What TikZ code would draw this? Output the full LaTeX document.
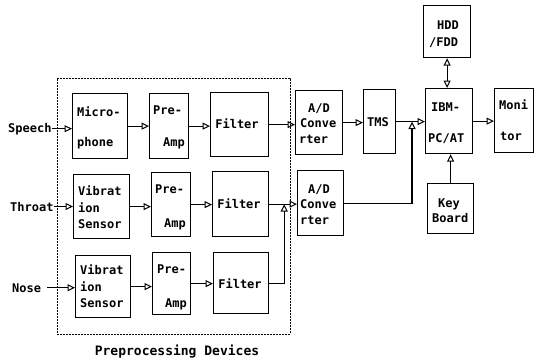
\documentclass[tikz,border=0pt]{standalone}
\usepackage{fontspec}
\setmonofont{DejaVu Sans Mono}
\usetikzlibrary{arrows.meta,calc}
\begin{document}
\begin{tikzpicture}[x=1pt,y=-1pt,
  box/.style={draw, line width=1.2pt, inner sep=0pt, anchor=north west},
  grp/.style={draw, line width=0.6pt, dash pattern=on 2pt off 1pt, inner sep=0pt, anchor=north west},
  txt/.style={font=\fontsize{12}{14}\selectfont\ttfamily\bfseries, inner sep=0pt, anchor=base west},
  txtr/.style={txt, anchor=base east},
  txtc/.style={txt, anchor=base},
  conn/.style={line width=1.2pt, -{Triangle[open,length=7.5pt,width=7pt,line width=1pt]}},
  conn2/.style={line width=1.2pt, {Triangle[open,length=7.5pt,width=7pt,line width=1pt]}-{Triangle[open,length=7.5pt,width=7pt,line width=1pt]}}
]
\useasboundingbox (0,0) rectangle (534,361);

% group
\node[grp, minimum width=233pt, minimum height=256pt] (group) at (57,78) {};
\node[txtc, font=\fontsize{13}{15}\selectfont\ttfamily\bfseries] (grplabel) at (177,355) {Preprocessing Devices};

% boxes
\node[box, minimum width=55pt, minimum height=65pt] (mic) at (72,93) {};
\node[box, minimum width=39pt, minimum height=65pt] (pre1) at (149,93) {};
\node[box, minimum width=58pt, minimum height=64pt] (fil1) at (210,92) {};
\node[box, minimum width=56pt, minimum height=64pt] (vib2) at (73,174) {};
\node[box, minimum width=39pt, minimum height=64pt] (pre2) at (151,172) {};
\node[box, minimum width=56pt, minimum height=65pt] (fil2) at (212,171) {};
\node[box, minimum width=55pt, minimum height=62pt] (vib3) at (75,255) {};
\node[box, minimum width=38pt, minimum height=62pt] (pre3) at (152,252) {};
\node[box, minimum width=55pt, minimum height=61pt] (fil3) at (213,252) {};
\node[box, minimum width=47pt, minimum height=64pt] (ad1) at (295,90) {};
\node[box, minimum width=46pt, minimum height=65pt] (ad2) at (297,170) {};
\node[box, minimum width=32pt, minimum height=64pt] (tms) at (363,89) {};
\node[box, minimum width=47pt, minimum height=65pt] (ibm) at (425,88) {};
\node[box, minimum width=39pt, minimum height=64pt] (mon) at (494,88) {};
\node[box, minimum width=47pt, minimum height=52pt] (hdd) at (423,5) {};
\node[box, minimum width=46pt, minimum height=50pt] (key) at (427,183) {};

% texts in boxes
\node[txt] (t1) at (77,116) {Micro-};
\node[txt] (t2) at (77,146) {phone};
\node[txt] (t3) at (153,114) {Pre-};
\node[txtr] (t4) at (185,146) {Amp};
\node[txtc] (t5) at (237,128) {Filter};
\node[txt] (t6) at (78,195) {Vibrat};
\node[txt] (t7) at (78,212) {ion};
\node[txt] (t8) at (78,228) {Sensor};
\node[txt] (t9) at (155,193) {Pre-};
\node[txtr] (t10) at (186,227) {Amp};
\node[txtc] (t11) at (239,208) {Filter};
\node[txt] (t12) at (80,274) {Vibrat};
\node[txt] (t13) at (80,291) {ion};
\node[txt] (t14) at (80,307) {Sensor};
\node[txt] (t15) at (157,273) {Pre-};
\node[txtr] (t16) at (187,307) {Amp};
\node[txtc] (t17) at (240,288) {Filter};
\node[txt] (t18) at (308,112) {A/D};
\node[txt] (t19) at (300,127) {Conve};
\node[txt] (t20) at (299,143) {rter};
\node[txt] (t21) at (308,193) {A/D};
\node[txt] (t22) at (300,208) {Conve};
\node[txt] (t23) at (300,224) {rter};
\node[txt] (t24) at (367,126) {TMS};
\node[txt] (t25) at (431,111) {IBM-};
\node[txt] (t26) at (428,142) {PC/AT};
\node[txt] (t27) at (499,109) {Moni};
\node[txt] (t28) at (500,140) {tor};
\node[txt] (t29) at (437,30) {HDD};
\node[txt] (t30) at (429,46) {/FDD};
\node[txt] (t31) at (438,207) {Key};
\node[txt] (t32) at (432,222) {Board};

% inputs
\node[txt] (speech) at (8,132) {Speech};
\node[txt] (throat) at (10,211) {Throat};
\node[txt] (nose) at (12,292) {Nose};

% connectors
\draw[conn] (speech.east) -- (speech.east -| mic.west);
\draw[conn] (throat.east) -- (throat.east -| vib2.west);
\draw[conn] ([xshift=6pt]nose.east) -- (nose.east -| vib3.west);
\draw[conn] (mic.east) -- (mic.east -| pre1.west);
\draw[conn] (pre1.east) -- (pre1.east -| fil1.west);
\draw[conn] (fil1.east) -- (fil1.east -| ad1.west);
\draw[conn] (vib2.east) -- (vib2.east -| pre2.west);
\draw[conn] (pre2.east) -- (pre2.east -| fil2.west);
\draw[conn] (fil2.east) -- (fil2.east -| ad2.west);
\draw[conn] (vib3.east) -- (vib3.east -| pre3.west);
\draw[conn] (pre3.east) -- (pre3.east -| fil3.west);
\coordinate (j) at ($(fil2.east)+(15,0)$);
\draw[conn] (fil3.east) -| (j);
\draw[conn] (ad1.east) -- (ad1.east -| tms.west);
\draw[conn] (tms.east) -- (tms.east -| ibm.west);
\coordinate (k) at ($(tms.east)!0.55!(tms.east -| ibm.west)$);
\draw[conn] (ad2.east) -| (k);
\draw[conn] (ibm.east) -- (ibm.east -| mon.west);
\draw[conn2] (hdd.south) -- (hdd.south |- ibm.north);
\draw[conn] (key.north) -- (key.north |- ibm.south);
\end{tikzpicture}
\end{document}
